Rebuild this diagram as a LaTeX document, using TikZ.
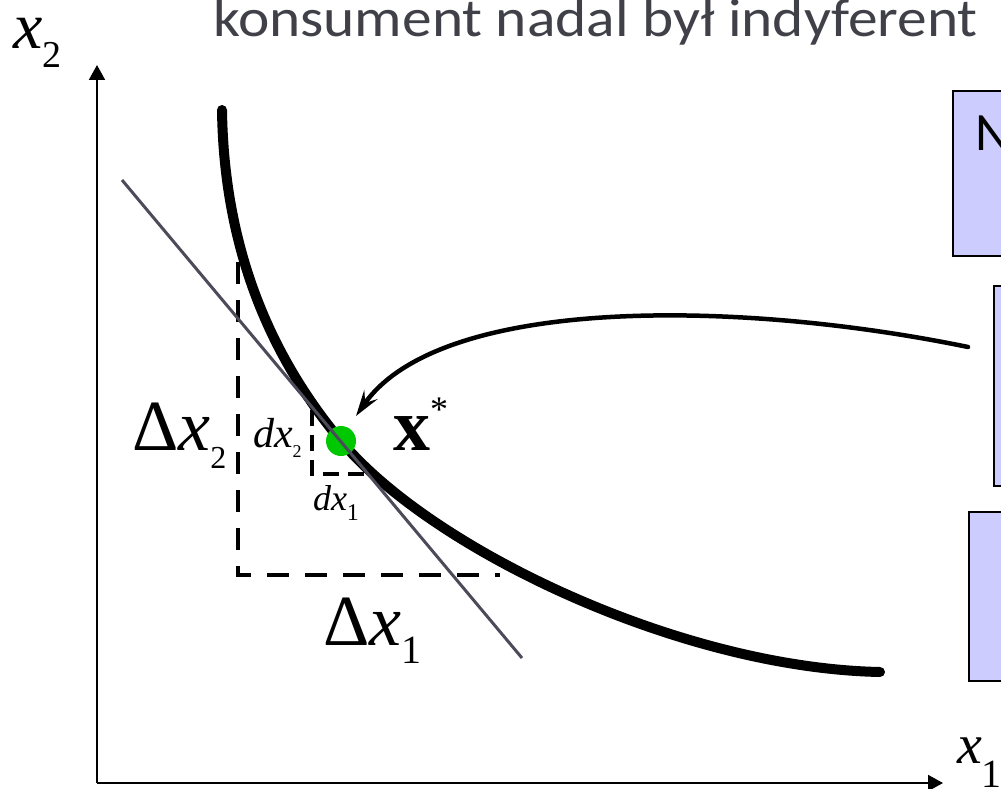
\documentclass[tikz,border=0pt]{standalone}
\usepackage{fontspec}
\setmainfont{Liberation Serif}
\newfontfamily\tnr{Liberation Serif}
\newfontfamily\calfont{Carlito}
\usetikzlibrary{arrows.meta}
\newcommand\fs[1]{\fontsize{#1}{#1}\selectfont}
\definecolor{boxfill}{RGB}{204,204,255}
\definecolor{dotgreen}{RGB}{0,200,0}
\definecolor{tanline}{RGB}{75,75,90}
\definecolor{titlegray}{RGB}{64,64,72}
\begin{document}
\begin{tikzpicture}[x=1pt,y=-1pt,
  lbl/.style={anchor=base west,inner sep=0pt,outer sep=0pt,font=\tnr},
  axis/.style={line width=2pt,-{Triangle[length=15pt,width=16pt]}},
  box/.style={draw=black,line width=2pt,fill=boxfill,anchor=north west,inner sep=0pt},
  dashbig/.style={line width=4pt,dash pattern=on 22pt off 16pt},
  dashsmall/.style={line width=4pt,dash pattern=on 16pt off 9pt},
  icurve/.style={line width=10pt,line cap=round},
  conn/.style={line width=4.5pt,line cap=round,-{Stealth[length=26pt,width=16pt,inset=10pt]}}]
\useasboundingbox (0,0) rectangle (1001,789);
\clip (0,0) rectangle (1001,789);
% title
\node[lbl,text=titlegray,xscale=1.1] (title) at (213,37) {\calfont\fs{54}konsument nadal był indyferent};
% boxes
\node[box,minimum width=70pt,minimum height=165pt] (b1) at (952,90) {};
\node[lbl] (b1t) at (975,150) {\calfont\fs{54}N};
\node[box,minimum width=30pt,minimum height=200pt] (b2) at (993,285) {};
\node[box,minimum width=50pt,minimum height=169pt] (b3) at (968,511) {};
% axes
\coordinate (O) at (97,783);
\coordinate (Ytip) at (97,65);
\coordinate (Xtip) at (943,783);
\draw[axis] (O) -- (Ytip);
\draw[axis] (O) -- (Xtip);
\node[lbl] (x2lab) at (13,49) {\fs{66}\textit{x}\raisebox{-19pt}{\fs{38}2}};
\node[lbl] (x1lab) at (957,763) {\fs{56}\textit{x}\raisebox{-24pt}{\fs{40}1}};
% dashed triangles
\coordinate (A1) at (238,262);
\coordinate (A2) at (238,575);
\coordinate (A3) at (500,575);
\draw[dashbig] (A1) -- (A2) -- (A3);
\coordinate (S1) at (312,410);
\coordinate (S2) at (312,474);
\coordinate (S3) at (370,474);
\draw[dashsmall] (S1) -- (S2) -- (S3);
% indifference curve
\coordinate (C0) at (222,110);
\coordinate (C1) at (341,441);
\coordinate (C2) at (880,672);
\draw[icurve] (C0) .. controls (224,250) and (271,357) .. (C1)
               .. controls (431,549) and (680,668) .. (C2);
% green dot
\node[circle,fill=dotgreen,minimum size=30pt,inner sep=0pt] (xs) at (C1) {};
% tangent line
\coordinate (T0) at (122,180);
\coordinate (T1) at (522,658);
\draw[line width=3pt,tanline] (T0) -- (T1);
% labels
\node[lbl] (Dx2) at (132,450) {\fs{72}Δ\textit{x}\raisebox{-18pt}{\fs{32}2}};
\node[lbl] (Dx1) at (323,645) {\fs{72}Δ\textit{x}\raisebox{-18pt}{\fs{40}1}};
\node[lbl] (dx2) at (253,447) {\fs{42}\textit{dx}\raisebox{-10pt}{\fs{18}2}};
\node[lbl] (dx1) at (313,510) {\fs{36}\textit{dx}\raisebox{-10pt}{\fs{24}1}};
\node[lbl] (xstar) at (393,450) {\fs{74}\textbf{x}\raisebox{29pt}{\fs{36}*}};
% arrow from box area to x*
\coordinate (Astart) at (968,347);
\coordinate (Aend) at (356,416);
\draw[conn] (Astart) .. controls (740,300) and (440,295) .. (Aend);
\end{tikzpicture}
\end{document}
